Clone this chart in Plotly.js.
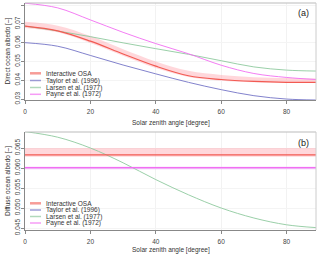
<!DOCTYPE html>
<html><head><meta charset="utf-8">
<script src="https://cdn.plot.ly/plotly-3.0.1.min.js"></script>
<style>html,body{margin:0;padding:0;background:#fff}#c{width:320px;height:255px}</style>
</head><body><div id="c"></div>
<script>
const angle = [0,10,20,30,40,50,60,70,80,89];
// Direct albedo
const osaDirect = [0.0688,0.0663,0.0608,0.0540,0.0475,0.0424,0.0404,0.0394,0.0389,0.0389];
const osaDirectHi = [0.0711,0.0690,0.0635,0.0565,0.0500,0.0450,0.0428,0.0416,0.0412,0.0410];
const osaDirectLo = [0.0678,0.0655,0.0598,0.0530,0.0465,0.0418,0.0398,0.0390,0.0388,0.0388];
const taylorDirect = [0.0600,0.0581,0.0532,0.0481,0.0434,0.0389,0.0350,0.0318,0.0300,0.0295];
const larsenDirect = [0.0688,0.0662,0.0632,0.0599,0.0568,0.0538,0.0504,0.0471,0.0454,0.0449];
const payneDirect = [0.0810,0.0785,0.0721,0.0655,0.0595,0.0541,0.0480,0.0436,0.0415,0.0404];
// Diffuse albedo
const osaDiffuse = 0.0633, osaDiffuseHi = 0.0650, osaDiffuseLo = 0.0628;
const taylorDiffuse = 0.0600;
const payneDiffuse = 0.0601;
const larsenDiffuse = [0.0691,0.0677,0.0650,0.0613,0.0571,0.0533,0.0500,0.0475,0.0458,0.0451];
const names = ["Interactive OSA","Taylor et al. (1996)","Larsen et al. (1977)","Payne et al. (1972)"];
const xTitle = "Solar zenith angle [degree]";
const yTitleA = "Direct ocean albedo [–]";
const yTitleB = "Diffuse ocean albedo [–]";
const xTicks = [0,20,40,60,80];
const yTicksA = [0.03,0.04,0.05,0.06,0.07,0.08];
const yTicksALabels = ["0.03","0.04","0.05","0.06","0.07","0.08"];
const yTicksB = [0.045,0.050,0.055,0.060,0.065];
const yTicksBLabels = ["0.045","0.050","0.055","0.060","0.065"];

const cRed='#f25a52', cBlue='#7474c6', cGreen='#8ec99e', cMag='#f26ef2', cBand='rgba(255,160,170,0.42)';
const konst = v => angle.map(()=>v);

const traces = [
 {x:angle,y:osaDirectHi,xaxis:'x',yaxis:'y',mode:'lines',line:{width:0,color:cBand,shape:'spline'},showlegend:false},
 {x:angle,y:osaDirectLo,xaxis:'x',yaxis:'y',mode:'lines',fill:'tonexty',fillcolor:cBand,line:{width:0,color:cBand,shape:'spline'},showlegend:false},
 {x:angle,y:taylorDirect,xaxis:'x',yaxis:'y',mode:'lines',line:{color:cBlue,width:0.9,shape:'spline'},showlegend:false},
 {x:angle,y:larsenDirect,xaxis:'x',yaxis:'y',mode:'lines',line:{color:cGreen,width:0.9,shape:'spline'},showlegend:false},
 {x:angle,y:payneDirect,xaxis:'x',yaxis:'y',mode:'lines',line:{color:cMag,width:0.9,shape:'spline'},showlegend:false},
 {x:angle,y:osaDirect,xaxis:'x',yaxis:'y',mode:'lines',line:{color:cRed,width:1.2,shape:'spline'},showlegend:false},

 {x:angle,y:konst(osaDiffuseHi),xaxis:'x2',yaxis:'y2',mode:'lines',line:{width:0,color:cBand},showlegend:false},
 {x:angle,y:konst(osaDiffuseLo),xaxis:'x2',yaxis:'y2',mode:'lines',fill:'tonexty',fillcolor:cBand,line:{width:0,color:cBand},showlegend:false},
 {x:angle,y:konst(taylorDiffuse),xaxis:'x2',yaxis:'y2',mode:'lines',line:{color:'rgba(238,190,250,0.9)',width:2.4},showlegend:false},
 {x:angle,y:larsenDiffuse,xaxis:'x2',yaxis:'y2',mode:'lines',line:{color:cGreen,width:0.9,shape:'spline'},showlegend:false},
 {x:angle,y:konst(payneDiffuse),xaxis:'x2',yaxis:'y2',mode:'lines',line:{color:cMag,width:1.1},showlegend:false},
 {x:angle,y:konst(osaDiffuse),xaxis:'x2',yaxis:'y2',mode:'lines',line:{color:cRed,width:1.2},showlegend:false}
];

const W=320,H=255;
const px = v => v/W, py = v => 1 - v/H;
const FF = 'Liberation Sans, Arial, sans-serif';
const tickFont = {family:FF, size:6.5, color:'#444'};
const xcommon = {range:[0,89],tickvals:xTicks,ticks:'outside',ticklen:3,tickcolor:'#888',showline:true,linecolor:'#888',linewidth:1,
  showgrid:true,gridcolor:'#f2f2f2',zeroline:false,tickfont:tickFont,ticklabelposition:'outside',ticklabelstandoff:2,domain:[px(25),px(316)]};
const ycommon = {ticks:'outside',ticklen:3,tickcolor:'#888',showline:true,linecolor:'#888',linewidth:1,showgrid:true,gridcolor:'#f4f4f4',
  zeroline:false,tickfont:tickFont,tickangle:-90,ticklabelposition:'outside',ticklabelstandoff:-2};

const shapes = [];
const annotations = [];
[[3,100],[132,230]].forEach(([t,b])=>{
  shapes.push({type:'line',xref:'paper',yref:'paper',x0:px(25),x1:px(316),y0:py(t),y1:py(t),line:{color:'#bbb',width:1}});
  shapes.push({type:'line',xref:'paper',yref:'paper',x0:px(316),x1:px(316),y0:py(t),y1:py(b),line:{color:'#ccc',width:1}});
});
const legCols = ['rgba(242,90,82,0.6)','rgba(116,116,198,0.7)','rgba(142,201,158,0.7)','rgba(242,114,242,0.7)'];
function legend(ys){
  ys.forEach((y,i)=>{
    shapes.push({type:'line',xref:'paper',yref:'paper',x0:px(30),x1:px(41),y0:py(y),y1:py(y),line:{color:legCols[i],width:i===0?2.5:1.5}});
    annotations.push({xref:'paper',yref:'paper',x:px(44),y:py(y),xanchor:'left',yanchor:'middle',showarrow:false,text:names[i],
      font:{family:FF,size:6.5,color:'#333'}});
  });
}
legend([73.3,80.5,87.5,94.3]);
legend([203.3,210,216.5,223]);
const titleFont = {family:FF,size:6.5,color:'#333'};
function title(x,y,text,angle){
  annotations.push({xref:'paper',yref:'paper',x:px(x),y:py(y),xanchor:'center',yanchor:'middle',showarrow:false,text:text,textangle:angle,font:titleFont});
}
title(170.5,123,xTitle,0);
title(170.5,250,xTitle,0);
title(8,51.5,yTitleA,-90);
title(8,181,yTitleB,-90);
annotations.push({xref:'paper',yref:'paper',x:px(311),y:py(13),xanchor:'right',yanchor:'middle',showarrow:false,text:'(a)',font:{family:FF,size:9,color:'#222'}});
annotations.push({xref:'paper',yref:'paper',x:px(311),y:py(143),xanchor:'right',yanchor:'middle',showarrow:false,text:'(b)',font:{family:FF,size:9,color:'#222'}});

const layout = {
  width:W,height:H,margin:{l:0,r:0,t:0,b:0},paper_bgcolor:'#fff',plot_bgcolor:'#fff',showlegend:false,
  xaxis:Object.assign({},xcommon,{anchor:'y'}),
  yaxis:Object.assign({},ycommon,{anchor:'x',domain:[py(100),py(3)],range:[0.0295,0.0811],tickvals:yTicksA,ticktext:yTicksALabels}),
  xaxis2:Object.assign({},xcommon,{anchor:'y2'}),
  yaxis2:Object.assign({},ycommon,{anchor:'x2',domain:[py(230),py(132)],range:[0.0445,0.069],tickvals:yTicksB,ticktext:yTicksBLabels}),
  shapes:shapes,annotations:annotations
};
Plotly.newPlot('c',traces,layout,{staticPlot:true,displayModeBar:false});
</script></body></html>
